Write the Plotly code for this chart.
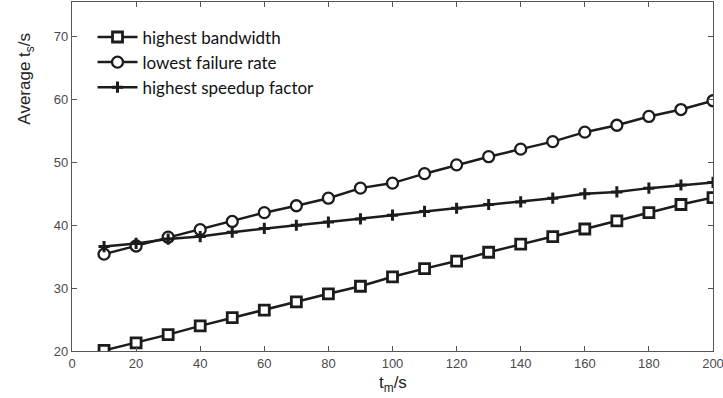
import plotly.graph_objects as go

t_m = [10, 20, 30, 40, 50, 60, 70, 80, 90, 100, 110, 120, 130, 140, 150, 160, 170, 180, 190, 200]
bandwidth = [20.1, 21.3, 22.6, 24.0, 25.3, 26.5, 27.8, 29.1, 30.3, 31.8, 33.1, 34.3, 35.7, 37.0, 38.2, 39.4, 40.7, 42.0, 43.3, 44.4]
failure = [35.4, 36.7, 38.1, 39.3, 40.6, 42.0, 43.1, 44.3, 45.9, 46.7, 48.2, 49.6, 50.9, 52.1, 53.3, 54.8, 55.9, 57.3, 58.4, 59.8]
speedup = [36.6, 37.1, 37.8, 38.2, 38.9, 39.5, 40.0, 40.5, 41.0, 41.6, 42.2, 42.7, 43.3, 43.7, 44.3, 45.0, 45.3, 45.9, 46.4, 46.8]
names = ["highest bandwidth", "lowest failure rate", "highest speedup factor"]
x_ticks = [0, 20, 40, 60, 80, 100, 120, 140, 160, 180, 200]
y_ticks = [20, 30, 40, 50, 60, 70]

LC = "#1c1c1c"
fig = go.Figure()
fig.add_trace(go.Scatter(x=t_m, y=bandwidth, name=names[0], mode="lines+markers",
                         line=dict(color=LC, width=2.5),
                         marker=dict(symbol="square", size=10, color="white",
                                     line=dict(color=LC, width=2.8))))
fig.add_trace(go.Scatter(x=t_m, y=failure, name=names[1], mode="lines+markers",
                         line=dict(color=LC, width=2.5),
                         marker=dict(symbol="circle", size=11, color="white",
                                     line=dict(color=LC, width=2.3))))
fig.add_trace(go.Scatter(x=t_m, y=speedup, name=names[2], mode="lines+markers",
                         line=dict(color=LC, width=2.5),
                         marker=dict(symbol="cross-thin", size=8, color=LC,
                                     line=dict(color=LC, width=3))))

axis_common = dict(showgrid=False, zeroline=False, showline=True, linecolor="#555555",
                   linewidth=1.3, mirror="ticks", ticks="inside", ticklen=5,
                   tickcolor="#555555", automargin=False, ticklabeloverflow="allow",
                   tickfont=dict(family="Liberation Sans, Arial, sans-serif", size=13, color="#4a4a4a"))

fig.update_xaxes(range=[0, 200], tickvals=x_ticks, **axis_common)
fig.update_yaxes(range=[20, 75.5], tickvals=y_ticks, **axis_common)

fig.add_annotation(text="Average t<sub>s</sub>/s", xref="paper", yref="paper",
                   x=-0.072, y=0.78, textangle=-90, showarrow=False,
                   xanchor="center", yanchor="middle",
                   font=dict(family="Liberation Sans, Arial, sans-serif", size=17, color="#222222"))
fig.add_annotation(text="t<sub>m</sub>/s", xref="paper", yref="paper",
                   x=0.5, y=-0.057, showarrow=False, xanchor="center", yanchor="top",
                   font=dict(family="Liberation Sans, Arial, sans-serif", size=17, color="#222222"))

fig.update_layout(
    width=723, height=398,
    margin=dict(l=72, r=10, t=2, b=47, autoexpand=False),
    paper_bgcolor="white", plot_bgcolor="white",
    showlegend=True,
    legend=dict(x=0.032, y=0.95, xanchor="left", yanchor="top",
                bgcolor="rgba(0,0,0,0)", borderwidth=0, tracegroupgap=0,
                font=dict(family="Lato, Open Sans, sans-serif", size=17, color="#111111"),
                itemwidth=40),
)

fig.write_html("out.html", config={"displayModeBar": False},
               post_script="document.body.style.margin='0';document.body.style.overflow='hidden';")
